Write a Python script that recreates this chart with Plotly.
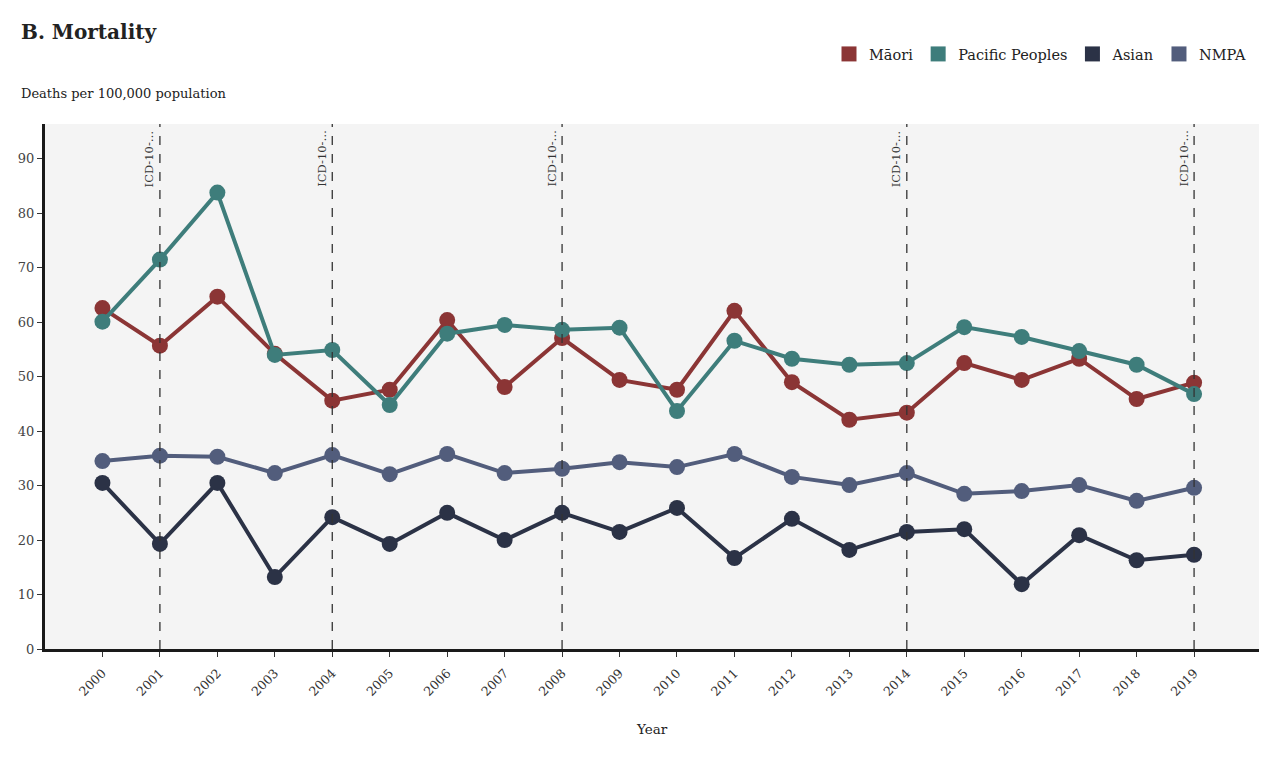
import plotly.graph_objects as go

years = list(range(2000, 2020))
maori = [62.6, 55.7, 64.7, 54.2, 45.6, 47.6, 60.4, 48.1, 57.1, 49.4, 47.6, 62.1, 49.0, 42.1, 43.4, 52.5, 49.4, 53.3, 45.9, 48.9]
pacific = [60.1, 71.5, 83.8, 54.0, 54.9, 44.8, 57.9, 59.5, 58.6, 59.0, 43.7, 56.6, 53.3, 52.2, 52.5, 59.1, 57.3, 54.7, 52.2, 46.8]
asian = [30.5, 19.3, 30.5, 13.2, 24.2, 19.3, 25.0, 20.0, 25.0, 21.5, 25.9, 16.7, 23.9, 18.2, 21.5, 22.0, 11.9, 20.9, 16.3, 17.3]
nmpa = [34.5, 35.5, 35.3, 32.3, 35.6, 32.1, 35.8, 32.3, 33.1, 34.3, 33.4, 35.8, 31.6, 30.1, 32.3, 28.5, 29.0, 30.1, 27.2, 29.6]
icd_years = [2001, 2004, 2008, 2014, 2019]
icd_label = "ICD-10-…"

series = [("Māori", maori, "#8b3535"), ("Pacific Peoples", pacific, "#3e7d7b"),
          ("Asian", asian, "#2b3246"), ("NMPA", nmpa, "#525d7c")]

FONT = "DejaVu Serif"
fig = go.Figure()
for name, vals, col in series:
    fig.add_trace(go.Scatter(x=years, y=vals, mode="lines+markers", name=name,
                             line=dict(color=col, width=4), marker=dict(color=col, size=16),
                             showlegend=False))
for name, vals, col in series:
    fig.add_trace(go.Scatter(x=[None], y=[None], mode="markers", name=name,
                             marker=dict(color=col, size=15, symbol="square"), showlegend=True))

for yr in icd_years:
    fig.add_shape(type="line", xref="x", yref="paper", x0=yr, x1=yr, y0=0, y1=1,
                  line=dict(color="#333333", width=1.3, dash="dash"))
    fig.add_annotation(x=yr, xref="x", y=1, yref="paper", text=icd_label, textangle=-90,
                       showarrow=False, xanchor="right", yanchor="top", xshift=-2, yshift=-4,
                       font=dict(family=FONT, size=11.5, color="#333333"))

fig.add_annotation(x=(21 - 45) / 1214, xref="paper", y=1 + (124 - 94) / 525, yref="paper",
                   text="Deaths per 100,000 population", showarrow=False, xanchor="left",
                   xshift=-2, yanchor="middle", font=dict(family=FONT, size=13, color="#222222"))
fig.add_annotation(x=(652 - 45) / 1214, xref="paper", y=-(729 - 649) / 525, yref="paper",
                   text="Year", showarrow=False, xanchor="center", yanchor="middle",
                   font=dict(family=FONT, size=13.5, color="#222222"))

fig.update_layout(
    width=1281, height=764,
    margin=dict(l=45, r=22, t=124, b=115),
    paper_bgcolor="white", plot_bgcolor="#f4f4f4",
    font=dict(family=FONT, color="#333333"),
    title=dict(text="<b>B. Mortality</b>", x=21 / 1281, xref="container", xanchor="left",
               y=1 - 32 / 764, yref="container", yanchor="middle",
               font=dict(family=FONT, size=20, color="#222222")),
    legend=dict(orientation="h", x=(1251 - 45) / 1214, xanchor="right", xref="paper",
                y=1 + (124 - 54) / 525, yanchor="middle",
                font=dict(family=FONT, size=14.5, color="#222222"),
                itemwidth=30, bgcolor="rgba(0,0,0,0)", traceorder="normal"),
    xaxis=dict(range=[1999.0, 2020.13], tickmode="array", tickvals=years,
               ticktext=[str(y) for y in years], tickangle=-45, showgrid=False, zeroline=False,
               showline=True, linecolor="#1a1a1a", linewidth=3, ticks="outside", ticklen=5,
               tickcolor="#333333", ticklabelstandoff=4,
               tickfont=dict(family=FONT, size=12.5, color="#333333")),
    yaxis=dict(range=[0, 96.4], tickvals=[0, 10, 20, 30, 40, 50, 60, 70, 80, 90],
               showgrid=False, zeroline=False, showline=True, linecolor="#1a1a1a", linewidth=3,
               ticks="outside", ticklen=5, tickcolor="#333333",
               tickfont=dict(family=FONT, size=13, color="#444444")),
)

fig.write_html("out.html")
